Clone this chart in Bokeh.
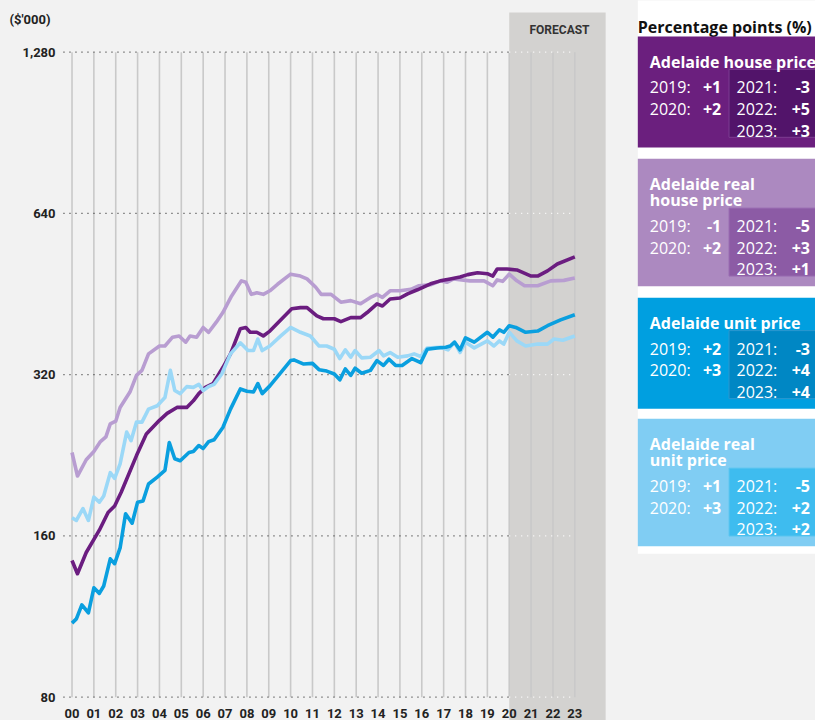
from bokeh.plotting import figure
from bokeh.layouts import row
from bokeh.models import Range1d, BoxAnnotation
from bokeh.core.properties import value
from bokeh.embed import file_html
from bokeh.resources import INLINE

# ---------------- data ----------------
house_t = [0.0, 0.25, 0.65, 1.25, 1.65, 1.95, 2.25, 2.95, 3.4, 4.0, 4.35, 4.8, 5.25, 5.55, 5.8, 6.1, 6.45,
           6.9, 7.25, 7.7, 7.95, 8.15, 8.45, 8.75, 9.05, 9.5, 10.05, 10.45, 10.75, 11.2, 11.5, 12.0, 12.3,
           12.75, 13.2, 13.5, 13.95, 14.2, 14.55, 15.0, 15.35, 15.8, 16.4, 16.85, 17.3, 17.75, 18.1, 18.55,
           19.0, 19.25, 19.45, 19.9, 20.35, 21.0, 21.3, 21.75, 22.2, 23.0]
house_v = [144, 136, 149, 164, 177, 182, 193, 226, 248, 263, 271, 278, 278, 286, 295, 303, 308,
           330, 350, 390, 392, 384, 384, 378, 386, 403, 425, 427, 427, 412, 407, 407, 402,
           409, 409, 418, 434, 430, 443, 445, 453, 461, 473, 479, 483, 487, 492, 496,
           494, 489, 504, 504, 502, 489, 489, 500, 515, 531]

real_house_t = [0.0, 0.25, 0.65, 1.0, 1.3, 1.55, 1.75, 2.0, 2.2, 2.65, 2.95, 3.2, 3.5, 4.0, 4.25, 4.6, 4.9,
                5.2, 5.4, 5.7, 6.0, 6.25, 6.6, 6.9, 7.3, 7.75, 7.95, 8.2, 8.45, 8.75, 9.05, 9.4, 10.0,
                10.45, 10.75, 11.15, 11.4, 11.85, 12.3, 12.75, 13.2, 13.65, 13.95, 14.2, 14.55, 15.0,
                15.5, 15.85, 16.4, 16.85, 17.15, 17.45, 18.2, 18.85, 19.25, 19.45, 19.7, 20.0, 20.35,
                20.7, 21.3, 21.9, 22.5, 23.0]
real_house_v = [229, 207, 222, 230, 240, 245, 259, 262, 278, 297, 319, 326, 350, 362, 362, 376, 378,
                368, 378, 376, 392, 384, 401, 418, 449, 479, 476, 452, 455, 452, 459, 472, 493,
                489, 483, 466, 452, 452, 437, 440, 434, 446, 452, 446, 459, 459,
                462, 469, 471, 479, 476, 483, 479, 479, 469, 481, 478, 493, 479,
                469, 469, 479, 480, 485]

unit_t = [0.0, 0.2, 0.45, 0.75, 1.0, 1.25, 1.45, 1.75, 1.95, 2.2, 2.45, 2.75, 3.0, 3.25, 3.5, 3.9, 4.25,
          4.45, 4.7, 4.95, 5.35, 5.55, 5.8, 6.0, 6.25, 6.5, 6.9, 7.25, 7.7, 8.0, 8.3, 8.5, 8.7, 9.05,
          9.55, 10.0, 10.15, 10.6, 11.0, 11.3, 11.65, 12.0, 12.25, 12.5, 12.75, 12.95, 13.25, 13.65,
          13.95, 14.25, 14.5, 14.8, 15.1, 15.55, 15.95, 16.25, 16.7, 17.1, 17.3, 17.5, 17.75, 18.0,
          18.4, 19.0, 19.25, 19.55, 19.75, 20.0, 20.3, 20.75, 21.3, 21.75, 22.35, 23.0]
unit_v = [110, 112, 119, 115, 128, 125, 129, 145, 142, 152, 176, 169, 185, 186, 200, 206, 212,
          239, 223, 221, 229, 230, 236, 233, 240, 242, 255, 276, 301, 298, 297, 308, 295, 305,
          323, 340, 341, 335, 336, 327, 325, 321, 313, 328, 319, 329, 322, 326,
          340, 333, 342, 333, 333, 343, 337, 357, 359, 360, 362, 368, 356, 375,
          368, 384, 376, 388, 384, 395, 392, 384, 386, 395, 405, 414]

real_unit_t = [0.0, 0.2, 0.5, 0.75, 1.0, 1.25, 1.45, 1.75, 1.95, 2.2, 2.5, 2.7, 2.95, 3.2, 3.5, 3.9, 4.25,
               4.5, 4.7, 4.95, 5.25, 5.55, 5.8, 6.0, 6.25, 6.5, 6.85, 7.25, 7.7, 8.05, 8.3, 8.5, 8.7,
               9.05, 9.55, 10.0, 10.45, 10.9, 11.3, 11.65, 12.0, 12.25, 12.5, 12.75, 12.95, 13.25,
               13.65, 14.05, 14.25, 14.55, 14.9, 15.35, 15.65, 15.95, 16.25, 16.85, 17.2, 17.5, 17.75,
               18.0, 18.4, 19.0, 19.3, 19.55, 19.75, 20.0, 20.35, 20.75, 21.3, 21.75, 22.05, 22.45, 23.0]
real_unit_v = [173, 171, 180, 171, 189, 185, 190, 210, 205, 218, 250, 241, 261, 261, 276, 280, 290,
               326, 299, 295, 304, 303, 307, 299, 304, 307, 321, 350, 367, 355, 355, 373, 355,
               362, 378, 392, 384, 378, 362, 362, 357, 343, 356, 345, 355, 344,
               345, 355, 347, 352, 345, 347, 350, 346, 359, 360, 356, 368, 352,
               368, 359, 370, 362, 370, 365, 384, 370, 362, 365, 365, 373, 371, 378]

yticks = [80, 160, 320, 640, 1280]
ytick_labels = ["80", "160", "320", "640", "1,280"]
xticks = list(range(0, 24))
xtick_labels = ["00", "01", "02", "03", "04", "05", "06", "07", "08", "09", "10", "11",
                "12", "13", "14", "15", "16", "17", "18", "19", "20", "21", "22", "23"]
forecast_start = 20
last_year = 23

panel_titles = [["Adelaide house price"], ["Adelaide real", "house price"],
                ["Adelaide unit price"], ["Adelaide real", "unit price"]]
change_years = ["2019:", "2020:", "2021:", "2022:", "2023:"]
house_chg = ["+1", "+2", "-3", "+5", "+3"]
real_house_chg = ["-1", "+2", "-5", "+3", "+1"]
unit_chg = ["+2", "+3", "-3", "+4", "+4"]
real_unit_chg = ["+1", "+3", "-5", "+2", "+2"]

# ---------------- styles ----------------
BG = "#f2f2f2"
C_HOUSE = "#6b1d80"
C_RHOUSE = "#b89dd1"
C_UNIT = "#0a9fdf"
C_RUNIT = "#9bd8f7"
FONT = value("Roboto")
LFONT = value("Open Sans")

# ---------------- main chart ----------------
p = figure(width=620, height=720, x_range=Range1d(-3.271, 25.09), y_range=Range1d(72.37, 1598.6),
           y_axis_type="log", x_axis_location=None, y_axis_location=None,
           output_backend="svg", toolbar_location=None, min_border=0,
           min_border_left=0, min_border_right=0, min_border_top=0, min_border_bottom=0,
           background_fill_color=BG, border_fill_color=BG, outline_line_color=None)
p.grid.visible = False

p.add_layout(BoxAnnotation(left=forecast_start, right=24.41, top=1518, fill_color="#d3d2d0",
                           fill_alpha=1, line_color=None, level="underlay"))

# vertical grid lines
p.segment(x0=xticks, y0=[yticks[0]] * len(xticks), x1=xticks, y1=[yticks[-1]] * len(xticks),
          line_color="#c9c9c9", line_width=1.6)
# dotted horizontal lines
p.segment(x0=[-0.39] * len(yticks), y0=yticks, x1=[forecast_start] * len(yticks), y1=yticks,
          line_color="#333333", line_dash="1 5", line_width=1.3)
p.segment(x0=[forecast_start] * len(yticks), y0=yticks, x1=[last_year] * len(yticks), y1=yticks,
          line_color="#ffffff", line_dash="1 5", line_width=1.3)

lw = 3.6
p.line(real_house_t, real_house_v, line_color=C_RHOUSE, line_width=lw, line_join="round")
p.line(house_t, house_v, line_color=C_HOUSE, line_width=lw, line_join="round")
p.line(real_unit_t, real_unit_v, line_color=C_RUNIT, line_width=lw, line_join="round")
p.line(unit_t, unit_v, line_color=C_UNIT, line_width=lw, line_join="round")

# y tick labels
p.text(x=[-0.755] * len(yticks), y=yticks, text=ytick_labels, text_align="right",
       text_baseline="middle", text_font=FONT, text_font_style="bold", text_font_size="13px",
       text_color="#222222")
# x tick labels
p.text(x=xticks, y=[74.6] * len(xticks), text=xtick_labels, text_align="center",
       text_baseline="middle", text_font=FONT, text_font_style="bold", text_font_size="13px",
       text_color="#222222")
p.text(x=[-2.86], y=[1474], text=["($'000)"], text_align="left", text_baseline="middle",
       text_font=FONT, text_font_style="bold", text_font_size="13px", text_color="#222222")
p.text(x=[22.3], y=[1408], text=["FORECAST"], text_align="center", text_baseline="middle",
       text_font=FONT, text_font_size="12px", text_font_style="bold", text_color="#333333")

# ---------------- legend panels ----------------
q = figure(width=195, height=720, x_range=Range1d(0, 195), y_range=Range1d(720, 0),
           x_axis_location=None, y_axis_location=None, output_backend="svg", toolbar_location=None,
           min_border=0, min_border_left=0, min_border_right=0, min_border_top=0, min_border_bottom=0,
           background_fill_color=BG, border_fill_color=BG, outline_line_color=None)
q.grid.visible = False

q.quad(left=[17.3], right=[200], top=[-10], bottom=[553.3], fill_color="#ffffff", line_color=None)
q.text(x=[17.3], y=[26], text=["Percentage points (%)"], text_align="left", text_baseline="alphabetic",
       text_font=LFONT, text_font_style="bold", text_font_size="16px", text_color="#111111")

panel_tops = [36, 158.3, 297.3, 418.3]
panel_cols = ["#6b1f7e", "#ac89c0", "#009fe0", "#80cdf3"]
inner_cols = ["#52146a", "#8c5ba5", "#0087c4", "#3ebcef"]
inner_lines = ["#7d3d92", "#9a6db3", "#2a97cf", "#5ec6f0"]
panel_chg = [house_chg, real_house_chg, unit_chg, real_unit_chg]

for T, col, icol, ilc, titles, chg in zip(panel_tops, panel_cols, inner_cols, inner_lines,
                                          panel_titles, panel_chg):
    off = 16.5 * (len(titles) - 1)
    q.quad(left=[17.3], right=[200], top=[T], bottom=[T + 111 + off], fill_color=col, line_color=None)
    q.quad(left=[108.5], right=[200], top=[T + 32.8 + off], bottom=[T + 100.8 + off],
           fill_color=icol, line_color=ilc, line_width=1)
    q.text(x=[29.3] * len(titles), y=[T + 25 + 15.8 * i for i in range(len(titles))], text=titles,
           text_align="left", text_baseline="alphabetic", text_font=LFONT, text_font_style="bold",
           text_font_size="16px", text_color="#ffffff")
    rows_y = [T + 50.8 + off + 21.6 * i for i in range(3)]
    q.text(x=[29.3, 29.3], y=rows_y[:2], text=change_years[:2], text_align="left",
           text_baseline="alphabetic", text_font=LFONT, text_font_size="16px", text_color="#ffffff")
    q.text(x=[100.7, 100.7], y=rows_y[:2], text=chg[:2], text_align="right",
           text_baseline="alphabetic", text_font=LFONT, text_font_style="bold", text_font_size="16px",
           text_color="#ffffff")
    q.text(x=[116] * 3, y=rows_y, text=change_years[2:], text_align="left",
           text_baseline="alphabetic", text_font=LFONT, text_font_size="16px", text_color="#ffffff")
    q.text(x=[189.5] * 3, y=rows_y, text=chg[2:], text_align="right",
           text_baseline="alphabetic", text_font=LFONT, text_font_style="bold", text_font_size="16px",
           text_color="#ffffff")

layout = row(p, q)
html = file_html(layout, INLINE).replace("<head>", "<head><style>body{background:#f2f2f2}</style>", 1)
open("out.html", "w").write(html)
